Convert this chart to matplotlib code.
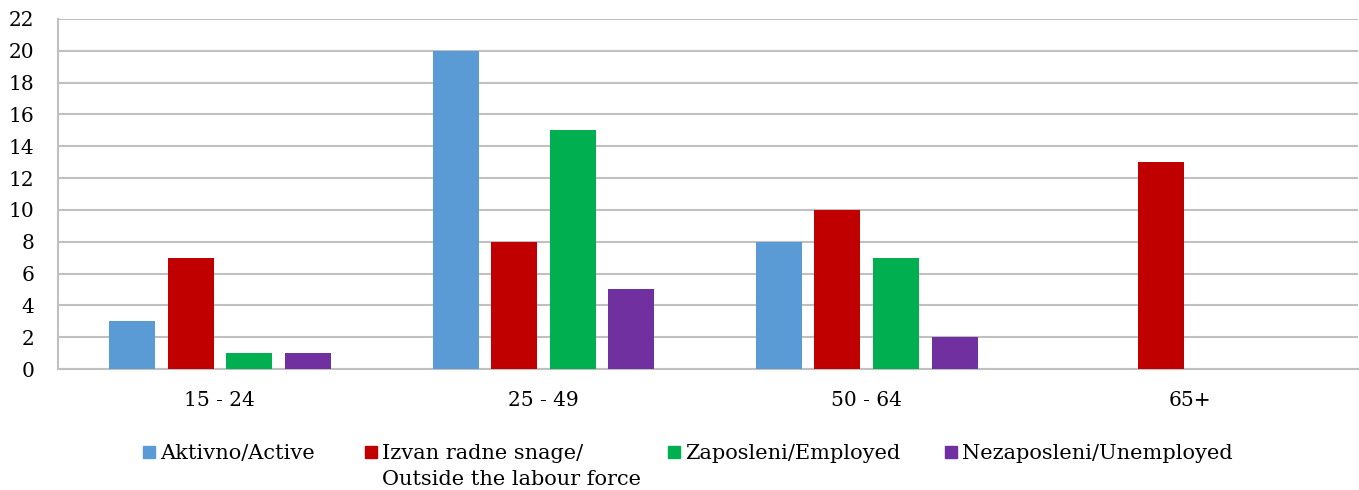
import matplotlib.pyplot as plt
from matplotlib.patches import Rectangle
import numpy as np

plt.rcParams['font.family'] = ['DejaVu Serif']

groups = ['15 - 24', '25 - 49', '50 - 64', '65+']
aktivno = [3, 20, 8, 0]
izvan = [7, 8, 10, 13]
zaposleni = [1, 15, 7, 0]
nezaposleni = [1, 5, 2, 0]

labels = ['Aktivno/Active', 'Izvan radne snage/\nOutside the labour force',
          'Zaposleni/Employed', 'Nezaposleni/Unemployed']
colors = ['#5B9BD5', '#C00000', '#00B050', '#7030A0']

W, H = 1359, 490
fig = plt.figure(figsize=(W/100, H/100), dpi=100)
ax = fig.add_axes([58/W, 1-369/H, 1300/W, 350/H])

pitch = 323.5  # px per category
x = np.arange(len(groups)) + 0.5
slot = 58.5 / pitch
w = 46 / pitch
series = [aktivno, izvan, zaposleni, nezaposleni]
for i, vals in enumerate(series):
    xs = x + (i - 1.5) * slot
    # 65+ has only one series, skip the empty ones
    v = np.array(vals, dtype=float)
    mask = v > 0
    ax.bar(xs[mask], v[mask], width=w, color=colors[i], zorder=3)

ax.set_xlim(0, 1300/pitch)
ax.set_ylim(0, 22)
ax.set_yticks(range(0, 23, 2))
ax.set_xticks(x)
ax.set_xticklabels(groups)
ax.tick_params(length=0, labelsize=14.5)
ax.tick_params(axis='x', pad=16)
ax.tick_params(axis='y', pad=17)
ax.grid(axis='y', color='#C0C0C0', linewidth=1.5, zorder=0)
for s in ['top', 'right']:
    ax.spines[s].set_visible(False)
for s in ['left', 'bottom']:
    ax.spines[s].set_color('#C0C0C0')
    ax.spines[s].set_linewidth(1.5)

# legend drawn by hand: Excel puts the entries at uneven spacing and aligns
# the two-line label from its top line
leg_x = [143, 365, 668, 945]
leg_y = 452
sq = 12
for lx, lab, c in zip(leg_x, labels, colors):
    fig.patches.append(Rectangle((lx/W, 1-(leg_y+sq/2)/H), sq/W, sq/H,
                                 transform=fig.transFigure, color=c))
    fig.text((lx+sq+5)/W, 1-(leg_y-8)/H, lab, fontsize=15, va='top', ha='left',
             linespacing=1.45)

fig.savefig('out.png', dpi=100)
